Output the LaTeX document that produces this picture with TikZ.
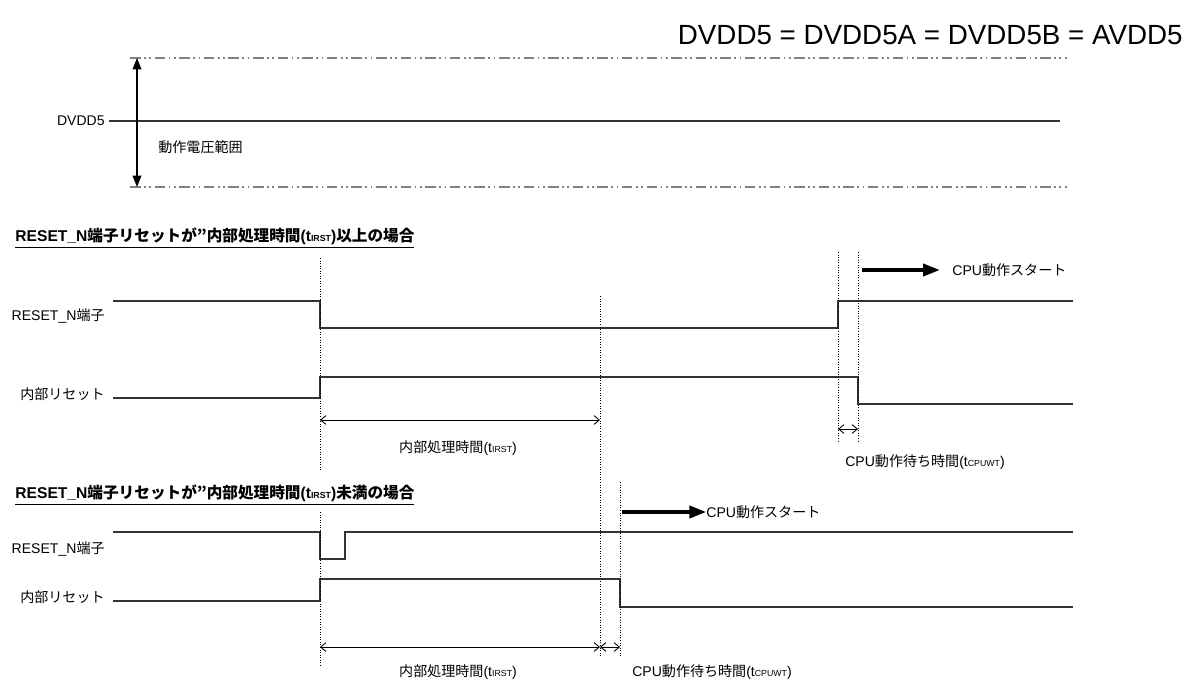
\documentclass[tikz,border=0pt]{standalone}
\usepackage{fontspec}
\setmainfont{Liberation Sans}
\newfontfamily\jp{Noto Sans CJK JP}
\usetikzlibrary{arrows.meta}
\newcommand{\tsub}[1]{{\fontsize{5}{6}\selectfont #1}}

\begin{document}
\begin{tikzpicture}[x=0.02cm, y=-0.02cm,
  lbl/.style={font=\fontsize{8}{10}\selectfont, inner sep=0pt},
  head/.style={font=\fontsize{8.9}{10}\selectfont\bfseries, inner sep=0pt, anchor=west},
  sig/.style={line width=0.7pt, black!80},
  guide/.style={densely dotted, line width=0.45pt},
  rangeline/.style={gray, line width=0.6pt, dash pattern=on 6pt off 2pt on 1pt off 2pt on 1pt off 2pt},
  dimarr/.style={{Straight Barb[length=3pt,width=5pt]}-{Straight Barb[length=3pt,width=5pt]}, line width=0.5pt},
  startarr/.style={-{Triangle[length=9.5pt,width=7pt]}, line width=1.8pt}]
  \useasboundingbox (0,0) rectangle (1193,680);

  % supply range
  \node[anchor=east, font=\fontsize{15.8}{18}\selectfont, inner sep=0pt] (title) at (1183,35) {DVDD5 = DVDD5A = DVDD5B = AVDD5};
  \coordinate (topL) at (130,58);  \coordinate (topR) at (1067,58);
  \coordinate (botL) at (130,187); \coordinate (botR) at (1067,187);
  \draw[rangeline] (topL) -- (topR);
  \draw[rangeline] (botL) -- (botR);
  \node[lbl, anchor=east] (vdd) at (105,121) {DVDD5};
  \coordinate (vddend) at (1060,121);
  \draw[line width=1.1pt, black!80] ([xshift=2.5pt]vdd.east) -- (vddend);
  \coordinate (rtop) at (137,58); \coordinate (rbot) at (137,187);
  \draw[{Triangle[length=6.5pt,width=5pt]}-{Triangle[length=6.5pt,width=5pt]}, line width=0.7pt] (rtop) -- (rbot);
  \node[lbl, anchor=west] (range) at (158,147) {\jp 動作電圧範囲};

  % case 1: reset longer than tIRST
  \node[head] (headA) at (15,238) {\underline{RESET\_N{\jp 端子リセットが”内部処理時間}(t\tsub{IRST}){\jp 以上の場合}}};
  \node[lbl, anchor=east] (rstA) at (105,316) {RESET\_N{\jp 端子}};
  \draw[sig] (113,301) -- (320,301) -- (320,328) -- (838,328) -- (838,301) -- (1073,301);
  \node[lbl, anchor=east] (intA) at (105,394) {\jp 内部リセット};
  \draw[sig] (113,398) -- (320,398) -- (320,377) -- (858,377) -- (858,404) -- (1073,404);
  \draw[guide] (320,258) -- (320,470);
  \draw[guide] (600,296) -- (600,657);
  \draw[guide] (838,252) -- (838,443);
  \draw[guide] (858,252) -- (858,443);
  \coordinate (irstA1) at (320,420); \coordinate (irstA2) at (600,420);
  \draw[dimarr] (irstA1) -- (irstA2);
  \node[lbl] (irstlblA) at (458,448) {{\jp 内部処理時間}(t\tsub{IRST})};
  \coordinate (wtA1) at (838,429); \coordinate (wtA2) at (858,429);
  \draw[dimarr] (wtA1) -- (wtA2);
  \node[lbl] (wtlblA) at (925,462) {CPU{\jp 動作待ち時間}(t\tsub{CPUWT})};
  \coordinate (goA) at (862,270);
  \node[lbl, anchor=west] (startA) at (952,270) {CPU{\jp 動作スタート}};
  \draw[startarr] (goA) -- ([xshift=-7pt]startA.west);

  % case 2: reset shorter than tIRST
  \node[head] (headB) at (15,495) {\underline{RESET\_N{\jp 端子リセットが”内部処理時間}(t\tsub{IRST}){\jp 未満の場合}}};
  \node[lbl, anchor=east] (rstB) at (105,549) {RESET\_N{\jp 端子}};
  \draw[sig] (113,532) -- (320,532) -- (320,559) -- (345,559) -- (345,532) -- (1073,532);
  \node[lbl, anchor=east] (intB) at (105,597) {\jp 内部リセット};
  \draw[sig] (113,601) -- (320,601) -- (320,579) -- (620,579) -- (620,607) -- (1073,607);
  \draw[guide] (320,512) -- (320,665);
  \draw[guide] (620,482) -- (620,657);
  \coordinate (irstB1) at (320,647); \coordinate (irstB2) at (600,647); \coordinate (wtB2) at (620,647);
  \draw[dimarr] (irstB1) -- (irstB2);
  \draw[dimarr] (irstB2) -- (wtB2);
  \node[lbl] (irstlblB) at (458,672) {{\jp 内部処理時間}(t\tsub{IRST})};
  \node[lbl] (wtlblB) at (712,672) {CPU{\jp 動作待ち時間}(t\tsub{CPUWT})};
  \coordinate (goB) at (622,512);
  \node[lbl, anchor=west] (startB) at (706,512) {CPU{\jp 動作スタート}};
  \draw[startarr] (goB) -- (startB.west);
\end{tikzpicture}
\end{document}
